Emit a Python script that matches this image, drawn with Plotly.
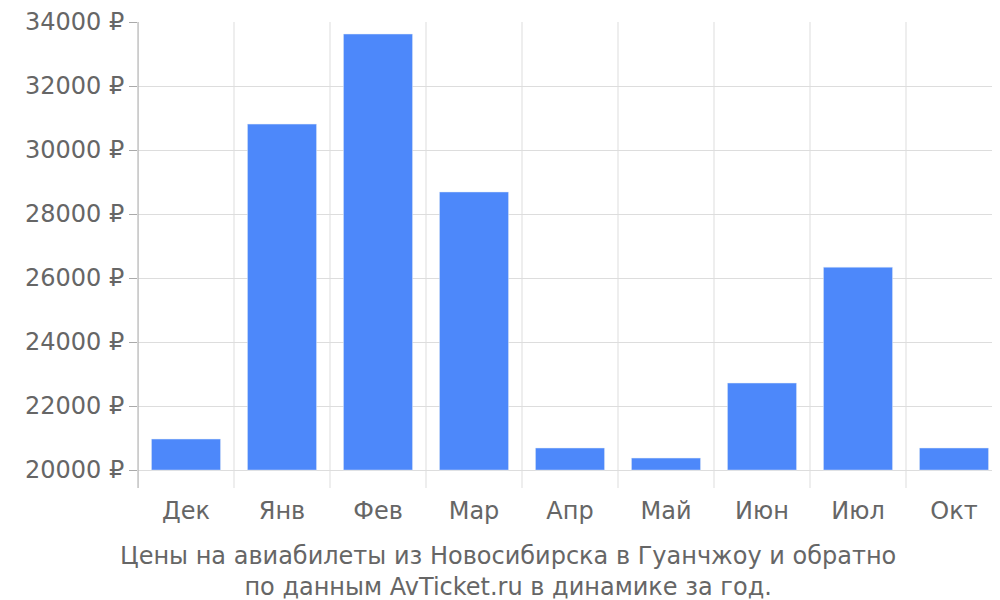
import plotly.graph_objects as go

months = ["Дек", "Янв", "Фев", "Мар", "Апр", "Май", "Июн", "Июл", "Окт"]
prices = [20970, 30810, 33625, 28690, 20690, 20375, 22720, 26340, 20690]
y_ticks = [20000, 22000, 24000, 26000, 28000, 30000, 32000, 34000]

fig = go.Figure()
fig.add_trace(go.Bar(
    x=list(range(len(months))), y=[p - 20000 for p in prices], base=20000,
    marker_color="#4d88fa", width=0.72,
))

shapes = []
for i in range(len(months) + 1):
    shapes.append(dict(type="line", xref="x", yref="paper", x0=i - 0.5, x1=i - 0.5,
                       y0=0, y1=1, line=dict(color="#dddddd", width=1), layer="below"))
shapes.append(dict(type="line", xref="paper", yref="paper", x0=0, x1=0, y0=0, y1=1,
                   line=dict(color="#aaaaaa", width=1)))

fig.update_layout(
    width=1000, height=600,
    margin=dict(l=130, r=6, t=14, b=120),
    plot_bgcolor="white", paper_bgcolor="white",
    font=dict(family="DejaVu Sans", size=24, color="#666666"),
    showlegend=False, shapes=shapes,
    xaxis=dict(tickmode="array", tickvals=list(range(len(months))), ticktext=months,
               range=[-0.5, len(months) - 0.5], showgrid=False, zeroline=False,
               ticks="", ticklabelstandoff=6, automargin=False),
    yaxis=dict(range=[19440, 34000], tickvals=y_ticks,
               ticktext=[f"{v} ₽" for v in y_ticks], gridcolor="#dddddd",
               zeroline=False, ticks="outside", ticklen=8, tickcolor="#aaaaaa",
               automargin=False),
    annotations=[dict(text="Цены на авиабилеты из Новосибирска в Гуанчжоу и обратно<br>по данным AvTicket.ru в динамике за год.",
                      xref="paper", yref="paper", x=0.428, y=-0.112, yanchor="top",
                      showarrow=False, font=dict(size=24, color="#666666"))],
)

fig.write_html("out.html")
